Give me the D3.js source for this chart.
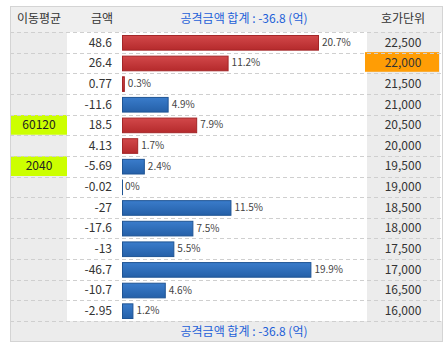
<!DOCTYPE html>
<html><head><meta charset="utf-8">
<script src="https://cdn.jsdelivr.net/npm/d3@7"></script>
<style>
html,body{margin:0;padding:0;background:#fff;}
svg text{font-family:"Noto Sans CJK KR","Noto Sans",sans-serif;}
</style></head>
<body><svg id="c" width="446" height="350"></svg>
<script>
const prices = ["22,500","22,000","21,500","21,000","20,500","20,000","19,500","19,000","18,500","18,000","17,500","17,000","16,500","16,000"];
const amounts = [48.6, 26.4, 0.77, -11.6, 18.5, 4.13, -5.69, -0.02, -27, -17.6, -13, -46.7, -10.7, -2.95];
const amountLabels = ["48.6","26.4","0.77","-11.6","18.5","4.13","-5.69","-0.02","-27","-17.6","-13","-46.7","-10.7","-2.95"];
const percents = [20.7, 11.2, 0.3, 4.9, 7.9, 1.7, 2.4, 0, 11.5, 7.5, 5.5, 19.9, 4.6, 1.2];
const movingAvg = ["", "", "", "", "60120", "", "2040", "", "", "", "", "", "", ""];
const headers = ["이동평균", "금액", "공격금액 합계 : -36.8 (억)", "호가단위"];
const footerText = "공격금액 합계 : -36.8 (억)";
const currentPrice = "22,000";

const svg = d3.select("#c");
const L = 10, R = 443, T = 6, HB = 32, FB = 321, B = 342;
const y = d3.scaleBand().domain(d3.range(prices.length)).range([HB, FB]).padding(0);
const x = d3.scaleLinear().domain([0, 20.7]).range([122, 319]);

const defs = svg.append("defs");
const gr = defs.append("linearGradient").attr("id","gr").attr("x1",0).attr("y1",0).attr("x2",0).attr("y2",1);
gr.append("stop").attr("offset","0").attr("stop-color","#d2484a");
gr.append("stop").attr("offset","1").attr("stop-color","#b52a2c");
const gb = defs.append("linearGradient").attr("id","gb").attr("x1",0).attr("y1",0).attr("x2",0).attr("y2",1);
gb.append("stop").attr("offset","0").attr("stop-color","#3a7ccb");
gb.append("stop").attr("offset","1").attr("stop-color","#2560a8");

// backgrounds
svg.append("rect").attr("x",L).attr("y",T).attr("width",R-L).attr("height",B-T).attr("fill","#fff");
svg.append("rect").attr("x",L).attr("y",T).attr("width",R-L).attr("height",HB-T).attr("fill","#efefef");
svg.append("rect").attr("x",L).attr("y",FB).attr("width",R-L).attr("height",B-FB).attr("fill","#ececec");
svg.append("rect").attr("x",L).attr("y",HB).attr("width",57).attr("height",FB-HB).attr("fill","#ececec");
svg.append("rect").attr("x",367).attr("y",HB).attr("width",73).attr("height",FB-HB).attr("fill","#ececec");

const rows = svg.append("g").selectAll("g").data(prices.map((p,i)=>({p,i}))).join("g");

// highlights
rows.filter(d=>movingAvg[d.i]!=="").append("rect")
  .attr("x",11).attr("y",d=>y(d.i)+0.5).attr("width",56).attr("height",y.bandwidth()-1)
  .attr("fill","#ccff00");
rows.filter(d=>d.p===currentPrice).append("rect")
  .attr("x",365).attr("y",d=>y(d.i)-0.5).attr("width",74).attr("height",y.bandwidth()-1)
  .attr("fill","#ff9d05");

// dashed lines
svg.append("g").selectAll("line").data(d3.range(prices.length+1)).join("line")
  .attr("x1",L).attr("x2",R)
  .attr("y1",i=>Math.round(HB + i*y.step())+0.5).attr("y2",i=>Math.round(HB + i*y.step())+0.5)
  .attr("stroke","#cfcfcf").attr("stroke-dasharray","4,3");

// bars
rows.append("rect")
  .attr("x",x(0)+0.5)
  .attr("y",d=>y(d.i)+3.5)
  .attr("width",d=>Math.max(0.01, x(percents[d.i])-x(0)-1))
  .attr("height",y.bandwidth()-6)
  .attr("fill",d=>amounts[d.i]>=0?"url(#gr)":"url(#gb)")
  .attr("stroke",d=>amounts[d.i]>=0?"#a32628":"#1f5494")
  .attr("stroke-width",1);

// percent labels
rows.append("text")
  .attr("x",d=>x(percents[d.i])+3)
  .attr("y",d=>y(d.i)+y.bandwidth()/2)
  .attr("dy","0.35em").attr("font-size",10).attr("fill","#444")
  .text(d=>percents[d.i]+"%");

// amount labels
rows.append("text")
  .attr("x",112).attr("y",d=>y(d.i)+y.bandwidth()/2).attr("dy","0.36em")
  .attr("text-anchor","end").attr("font-size",12).attr("fill","#333")
  .text(d=>amountLabels[d.i]);

// moving average labels
rows.append("text")
  .attr("x",39).attr("y",d=>y(d.i)+y.bandwidth()/2).attr("dy","0.36em")
  .attr("text-anchor","middle").attr("font-size",12).attr("fill","#222")
  .text(d=>movingAvg[d.i]);

// price labels
rows.append("text")
  .attr("x",403).attr("y",d=>y(d.i)+y.bandwidth()/2).attr("dy","0.36em")
  .attr("text-anchor","middle").attr("font-size",12).attr("fill","#333")
  .text(d=>d.p);

// headers
const hx = [39, 102, 244, 403];
svg.append("g").selectAll("text").data(headers).join("text")
  .attr("x",(d,i)=>hx[i]).attr("y",(T+HB)/2).attr("dy","0.36em")
  .attr("text-anchor","middle").attr("font-size",12)
  .attr("fill",(d,i)=>i===2?"#1c5fd8":"#333")
  .text(d=>d);
svg.append("text").attr("x",244).attr("y",(FB+B)/2).attr("dy","0.36em")
  .attr("text-anchor","middle").attr("font-size",12).attr("fill","#1c5fd8").text(footerText);

// outer border
svg.append("rect").attr("x",L+0.5).attr("y",T+0.5).attr("width",R-L-1).attr("height",B-T-1)
  .attr("fill","none").attr("stroke","#d4d4d4");
</script></body></html>
